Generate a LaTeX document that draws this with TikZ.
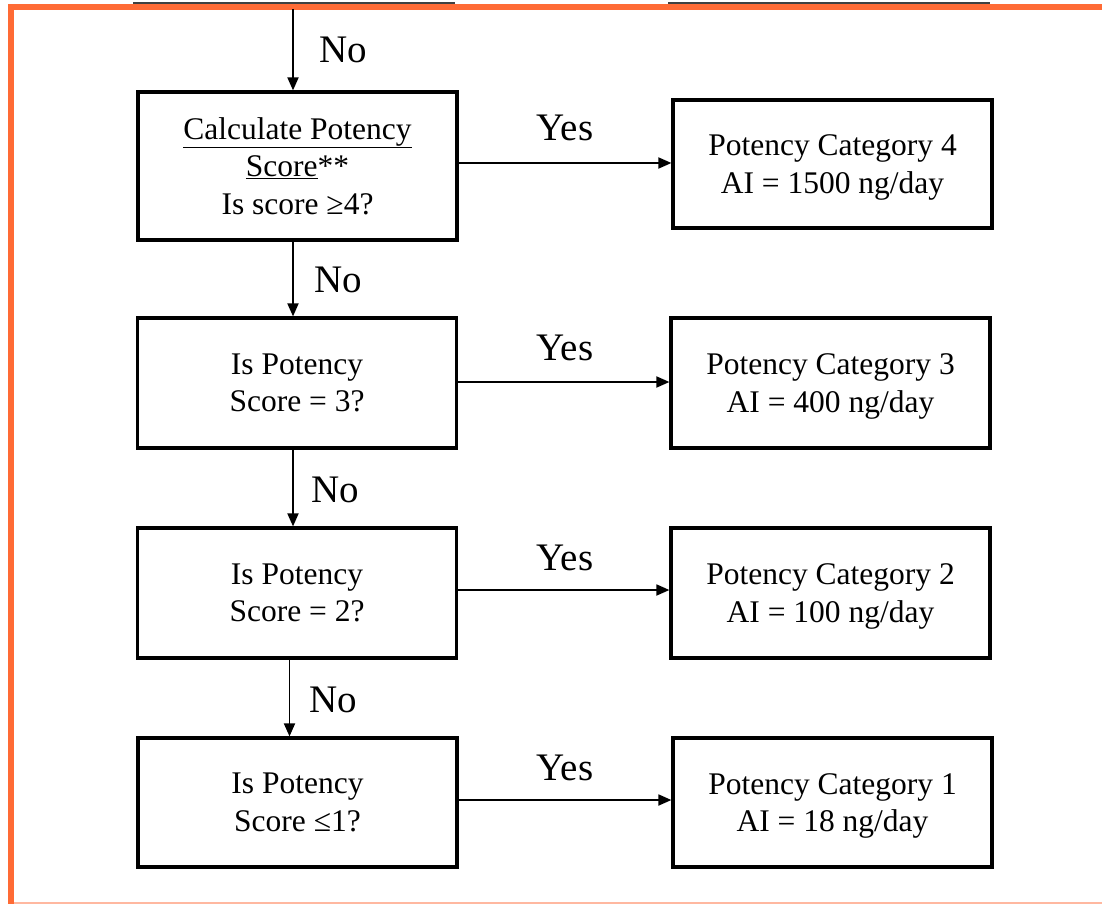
\documentclass[tikz,border=0pt]{standalone}
\usepackage{fontspec}
\setmainfont{Liberation Serif}
\usetikzlibrary{arrows.meta}
\definecolor{frameorange}{HTML}{FF6B35}
\definecolor{framepink}{HTML}{FFB8A0}
\tikzset{
  x=1pt, y=-1pt,
  box/.style={draw=black, line width=3.2pt, fill=white, align=center,
    inner sep=0pt, font=\fontsize{31.5}{37.5}\selectfont},
  qbox/.style={box, minimum width=319pt, minimum height=130pt},
  abox/.style={box, minimum width=319pt, minimum height=129pt, text depth=-1.5pt},
  arr/.style={line width=1.8pt, -{Triangle[length=13pt,width=11pt]}},
  lbl/.style={font=\fontsize{39}{44}\selectfont, inner sep=0pt}
}
\begin{document}
\begin{tikzpicture}
\useasboundingbox (0,0) rectangle (1102,904);
% bottom edges of the boxes above, cut off by the frame
\draw[line width=2pt, black!75] (133,3.5) -- (455,3.5);
\draw[line width=2pt, black!75] (668,3.5) -- (990,3.5);
% frame
\draw[framepink, line width=2pt] (11,903) -- (1102,903);
\draw[frameorange, line width=6pt] (11,904) -- (11,7.5) -- (1102,7.5);

% question boxes
\node[qbox, minimum height=148pt] (b1) at (297.5,166)
  {\underline{Calculate Potency}\\\underline{Score}**\\Is score ≥4?};
\node[qbox] (b2) at (297,383) {Is Potency\\Score = 3?};
\node[qbox] (b3) at (297,593) {Is Potency\\Score = 2?};
\node[qbox, minimum height=129pt] (b4) at (297.5,802.5) {Is Potency\\Score ≤1?};

% category boxes
\node[abox, minimum height=128pt] (r1) at (832.5,164) {Potency Category 4\\AI = 1500 ng/day};
\node[abox, minimum height=130pt] (r2) at (830.5,383) {Potency Category 3\\AI = 400 ng/day};
\node[abox, minimum height=130pt] (r3) at (830.5,593) {Potency Category 2\\AI = 100 ng/day};
\node[abox] (r4) at (832.5,802.5) {Potency Category 1\\AI = 18 ng/day};

% "No" branch down the left column
\coordinate (top) at (293,9);
\draw[arr] (top) -- (top |- b1.north);
\draw[arr] ([xshift=-4.5pt]b1.south) -- ([xshift=-4.5pt]b1.south |- b2.north);
\draw[arr] ([xshift=-4pt]b2.south) -- ([xshift=-4pt]b2.south |- b3.north);
\draw[arr] ([xshift=-7.5pt]b3.south) -- ([xshift=-7.5pt]b3.south |- b4.north);

% "Yes" branches to the categories
\draw[arr] ([yshift=3pt]b1.east) -- ([yshift=3pt]b1.east -| r1.west);
\draw[arr] ([yshift=1pt]b2.east) -- ([yshift=1pt]b2.east -| r2.west);
\draw[arr] ([yshift=3pt]b3.east) -- ([yshift=3pt]b3.east -| r3.west);
\draw[arr] ([yshift=2.5pt]b4.east) -- ([yshift=2.5pt]b4.east -| r4.west);

% labels
\node[lbl] (n1) at (343,50) {No};
\node[lbl] (n2) at (338,280) {No};
\node[lbl] (n3) at (335,490) {No};
\node[lbl] (n4) at (333,700) {No};
\node[lbl] (y1) at (565,128) {Yes};
\node[lbl] (y2) at (565,348) {Yes};
\node[lbl] (y3) at (565,558) {Yes};
\node[lbl] (y4) at (565,768) {Yes};
\end{tikzpicture}
\end{document}
